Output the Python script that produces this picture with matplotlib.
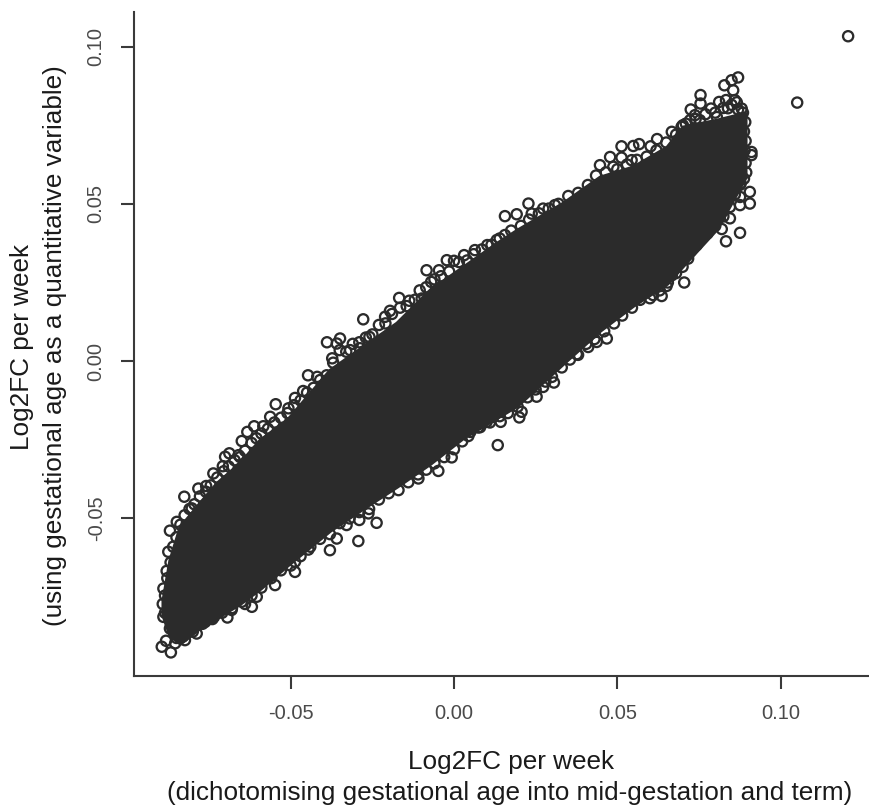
#!/usr/bin/env python3
# -*- coding: utf-8 -*-

"""
Log2FC per week: two ways of modelling gestational age
"""

import matplotlib
matplotlib.use("Agg")
import matplotlib.pyplot as plt

plt.rcParams["font.family"] = ["Liberation Sans", "DejaVu Sans"]

# ========================================
#  data
# ========================================

# the dense mass of points, where single circles can't be told apart
mass_x = [-0.0891, -0.0870, -0.0839, -0.0778, -0.0726, -0.0655, -0.0594, -0.0511,
          -0.0380, -0.0279, -0.0175, -0.0073, 0.0028, 0.0132, 0.0193, 0.0334,
          0.0447, 0.0548, 0.0652, 0.0701, 0.0805, 0.0891]
mass_upper = [-0.0760, -0.0633, -0.0528, -0.0451, -0.0388, -0.0324, -0.0251, -0.0188,
              -0.0029, 0.0045, 0.0121, 0.0226, 0.0299, 0.0375, 0.0416, 0.0502,
              0.0585, 0.0617, 0.0680, 0.0744, 0.0766, 0.0788]
mass_lower = [-0.0807, -0.0871, -0.0896, -0.0846, -0.0814, -0.0769, -0.0722, -0.0648,
              -0.0537, -0.0467, -0.0397, -0.0324, -0.0242, -0.0178, -0.0140, -0.0006,
              0.0099, 0.0178, 0.0248, 0.0305, 0.0423, 0.0585]

# single circles, upper edge from left to right
upper_x = [-0.0895, -0.0867, -0.0882, -0.0854, -0.0890, -0.0892, -0.0890, -0.0880,
           -0.0875, -0.0870, -0.0849, -0.0826, -0.0783, -0.0759, -0.0803, -0.0737,
           -0.0701, -0.0688, -0.0708, -0.0660, -0.0650, -0.0633, -0.0612, -0.0584,
           -0.0563, -0.0546, -0.0507,
           -0.0349, -0.0359, -0.0278, -0.0259, -0.0211, -0.0196, -0.0168, -0.0137,
           -0.0099, -0.0084, -0.0046, -0.0070, -0.0022, 0.0000, 0.0031, 0.0064,
           0.0102, 0.0131, 0.0156, 0.0156, 0.0192, 0.0228, 0.0273, 0.0309, 0.0238,
           0.0447, 0.0478, 0.0488, 0.0513, 0.0513, 0.0549, 0.0567, 0.0544, 0.0602,
           0.0622, 0.0667, 0.0697, 0.0725, 0.0738, 0.0755, 0.0755, 0.0787, 0.0812,
           0.0828, 0.0850, 0.0870, 0.0855, 0.0833, 0.0860, 0.0881]
upper_y = [-0.0908, -0.0926, -0.0889, -0.0897, -0.0813, -0.0772, -0.0723, -0.0667,
           -0.0606, -0.0539, -0.0511, -0.0431, -0.0405, -0.0397, -0.0468, -0.0357,
           -0.0304, -0.0293, -0.0334, -0.0299, -0.0254, -0.0225, -0.0207, -0.0207,
           -0.0177, -0.0137, -0.0150,
           0.0072, 0.0056, 0.0133, 0.0077, 0.0141, 0.0160, 0.0201, 0.0192,
           0.0199, 0.0289, 0.0289, 0.0252, 0.0321, 0.0319, 0.0337, 0.0353,
           0.0369, 0.0385, 0.0401, 0.0461, 0.0467, 0.0501, 0.0485, 0.0496, 0.0469,
           0.0623, 0.0649, 0.0618, 0.0683, 0.0647, 0.0684, 0.0690, 0.0639, 0.0683,
           0.0706, 0.0729, 0.0745, 0.0800, 0.0782, 0.0846, 0.0819, 0.0803, 0.0824,
           0.0877, 0.0893, 0.0902, 0.0861, 0.0830, 0.0830, 0.0803]

# single circles, lower edge from left to right
lower_x = [-0.0824, -0.0788, -0.0762, -0.0735, -0.0694, -0.0681, -0.0619, -0.0640,
           -0.0604, -0.0548, -0.0487, -0.0487, -0.0446, -0.0380, -0.0359, -0.0329,
           -0.0293, -0.0290, -0.0237, -0.0262,
           -0.0109, -0.0109, -0.0048, -0.0007, 0.0044, 0.0074, 0.0100, 0.0120,
           0.0134, 0.0143, 0.0200, 0.0207, 0.0253, 0.0273, 0.0306, 0.0376, 0.0411,
           0.0437, 0.0468, 0.0524, 0.0591,
           0.0610, 0.0636, 0.0651, 0.0667, 0.0705, 0.0717, 0.0743, 0.0776, 0.0820,
           0.0833, 0.0845, 0.0876, 0.0876, 0.0876, 0.0878, 0.0906, 0.0906, 0.0911,
           0.0911]
lower_y = [-0.0887, -0.0866, -0.0829, -0.0813, -0.0815, -0.0791, -0.0781, -0.0772,
           -0.0749, -0.0712, -0.0670, -0.0638, -0.0599, -0.0601, -0.0564, -0.0521,
           -0.0572, -0.0505, -0.0514, -0.0484,
           -0.0336, -0.0373, -0.0349, -0.0306, -0.0238, -0.0211, -0.0193, -0.0177,
           -0.0267, -0.0193, -0.0179, -0.0161, -0.0113, -0.0082, -0.0068, 0.0022, 0.0045,
           0.0061, 0.0072, 0.0184, 0.0222,
           0.0210, 0.0207, 0.0239, 0.0273, 0.0250, 0.0326, 0.0369, 0.0406, 0.0420,
           0.0381, 0.0454, 0.0408, 0.0522, 0.0496, 0.0565, 0.0538, 0.0501, 0.0665,
           0.0655]

# circles half sunk into the top of the mass
fringe_top_x = [-0.0885, -0.0878, -0.0868, -0.0860, -0.0850, -0.0838, -0.0825, -0.0810,
                -0.0795, -0.0778, -0.0760, -0.0745, -0.0725, -0.0705, -0.0690, -0.0672,
                -0.0655, -0.0640, -0.0620, -0.0605, -0.0590, -0.0570, -0.0550, -0.0530,
                -0.0510, -0.0490, -0.0470, -0.0450, -0.0430, -0.0410, -0.0390, -0.0370,
                -0.0350, -0.0330, -0.0310, -0.0290, -0.0270, -0.0250, -0.0230, -0.0210,
                -0.0190, -0.0165, -0.0145, -0.0120, -0.0105, -0.0085, -0.0060, -0.0040,
                -0.0015, 0.0015, 0.0040, 0.0060, 0.0085, 0.0115, 0.0140, 0.0175,
                0.0205, 0.0230, 0.0260, 0.0290, 0.0320, 0.0350, 0.0380, 0.0410,
                0.0435, 0.0465, 0.0500, 0.0530, 0.0560, 0.0590, 0.0620, 0.0650,
                0.0680, 0.0710, 0.0740, 0.0770, 0.0800, 0.0825, 0.0850, 0.0870, 0.0885]
fringe_top_y = [-0.0745, -0.0690, -0.0640, -0.0590, -0.0560, -0.0520, -0.0490, -0.0470,
                -0.0455, -0.0430, -0.0415, -0.0395, -0.0370, -0.0350, -0.0335, -0.0315,
                -0.0305, -0.0285, -0.0260, -0.0245, -0.0230, -0.0215, -0.0195, -0.0180,
                -0.0165, -0.0140, -0.0125, -0.0100, -0.0085, -0.0060, -0.0045, -0.0005,
                0.0035, 0.0030, 0.0055, 0.0060, 0.0075, 0.0085, 0.0115, 0.0120,
                0.0150, 0.0170, 0.0175, 0.0195, 0.0225, 0.0235, 0.0260, 0.0270,
                0.0285, 0.0315, 0.0320, 0.0340, 0.0355, 0.0370, 0.0390, 0.0415,
                0.0430, 0.0450, 0.0470, 0.0485, 0.0500, 0.0525, 0.0535, 0.0560,
                0.0590, 0.0600, 0.0610, 0.0625, 0.0640, 0.0650, 0.0670, 0.0695,
                0.0720, 0.0755, 0.0770, 0.0785, 0.0790, 0.0805, 0.0815, 0.0800, 0.0790]

# circles along the right end of the mass
fringe_end_x = [0.0892, 0.0888, 0.0893, 0.0890, 0.0893, 0.0895, 0.0888]
fringe_end_y = [0.0760, 0.0730, 0.0700, 0.0670, 0.0630, 0.0600, 0.0580]

# circles half sunk into the bottom of the mass
fringe_low_x = [0.0875, 0.0860, 0.0845, 0.0825, 0.0800, 0.0775, 0.0750, 0.0725, 0.0700,
                0.0680, 0.0655, 0.0630, 0.0600, 0.0570, 0.0545, 0.0515, 0.0490, 0.0460,
                0.0430, 0.0405, 0.0380, 0.0355, 0.0330, 0.0300, 0.0280, 0.0250, 0.0225,
                0.0195, 0.0165, 0.0140, 0.0110, 0.0080, 0.0050, 0.0025, 0.0000, -0.0030,
                -0.0060, -0.0085, -0.0110, -0.0140, -0.0170, -0.0200, -0.0230, -0.0260,
                -0.0290, -0.0320, -0.0350, -0.0380, -0.0410, -0.0440, -0.0470, -0.0500,
                -0.0530, -0.0560, -0.0590, -0.0620, -0.0650, -0.0680, -0.0710, -0.0740,
                -0.0770, -0.0800, -0.0830, -0.0850, -0.0870, -0.0885]
fringe_low_y = [0.0560, 0.0530, 0.0490, 0.0460, 0.0430, 0.0420, 0.0390, 0.0350, 0.0300,
                0.0280, 0.0250, 0.0225, 0.0200, 0.0195, 0.0170, 0.0145, 0.0120, 0.0095,
                0.0070, 0.0055, 0.0020, 0.0005, -0.0020, -0.0050, -0.0065, -0.0090, -0.0115,
                -0.0145, -0.0165, -0.0175, -0.0195, -0.0210, -0.0225, -0.0255, -0.0280, -0.0305,
                -0.0325, -0.0345, -0.0360, -0.0385, -0.0410, -0.0420, -0.0440, -0.0470,
                -0.0480, -0.0500, -0.0515, -0.0550, -0.0565, -0.0590, -0.0620, -0.0650,
                -0.0665, -0.0690, -0.0720, -0.0745, -0.0765, -0.0785, -0.0800, -0.0820,
                -0.0835, -0.0860, -0.0875, -0.0880, -0.0850, -0.0800]

# a few more circles seen in the close-ups
extra_x = [-0.0389, -0.0447, -0.0419, -0.0487, -0.0462, -0.0373, -0.0318, -0.0288,
           0.0805, 0.0839, 0.0866, 0.0753, 0.0723, 0.0701, 0.0784, 0.0753]
extra_y = [0.0060, -0.0045, -0.0050, -0.0117, -0.0095, 0.0009, 0.0035, 0.0041,
           0.0776, 0.0804, 0.0823, 0.0766, 0.0766, 0.0750, 0.0448, 0.0407]

# the two far points at the top right
outlier_x = [0.1051, 0.1207]
outlier_y = [0.0822, 0.1033]

x_ticks = [-0.05, 0.00, 0.05, 0.10]
y_ticks = [-0.05, 0.00, 0.05, 0.10]

x_label_1 = "Log2FC per week"
x_label_2 = "(dichotomising gestational age into mid-gestation and term)"
y_label_1 = "Log2FC per week"
y_label_2 = "(using gestational age as a quantitative variable)"

INK = "#2b2b2b"
TICK_TEXT = "#4a4a4a"
LABEL = "#1a1a1a"

# ========================================
#  figure
# ========================================
W, H = 870, 806
fig = plt.figure(figsize=(W / 100, H / 100), dpi=100)
ax = fig.add_axes([134 / W, 1 - 676 / H, 736 / W, 664 / H])

ax.set_xlim(-0.0980, 0.1274)
ax.set_ylim(-0.1001, 0.1110)

ax.fill_between(mass_x, mass_lower, mass_upper, color=INK, lw=3, zorder=2)

circle = dict(s=54, facecolors="none", edgecolors=INK, linewidths=1.65, zorder=3)
ax.scatter(upper_x, upper_y, **circle)
ax.scatter(lower_x, lower_y, **circle)
ax.scatter(fringe_top_x, fringe_top_y, **circle)
ax.scatter(fringe_end_x, fringe_end_y, **circle)
ax.scatter(fringe_low_x, fringe_low_y, **circle)
ax.scatter(extra_x, extra_y, **circle)
ax.scatter(outlier_x, outlier_y, **circle)

# ========================================
#  axes in the R style
# ========================================
for side in ("top", "right"):
    ax.spines[side].set_visible(False)
for side in ("left", "bottom"):
    ax.spines[side].set_linewidth(1.5)
    ax.spines[side].set_color("#3a3a3a")

ax.set_xticks(x_ticks)
ax.set_xticklabels([f"{v:.2f}" for v in x_ticks])
ax.set_yticks(y_ticks)
ax.set_yticklabels([f"{v:.2f}" for v in y_ticks], rotation=90, va="center")
ax.tick_params(axis="x", length=9.4, width=1.5, color="#3a3a3a", pad=11,
               labelsize=14.5, labelcolor=TICK_TEXT)
ax.tick_params(axis="y", length=9.4, width=1.5, color="#3a3a3a", pad=11,
               labelsize=14.5, labelcolor=TICK_TEXT)

fig.text(511 / W, 1 - 762 / H, x_label_1, ha="center", va="center", fontsize=18.8, color=LABEL)
fig.text(510 / W, 1 - 793 / H, x_label_2, ha="center", va="center", fontsize=18.8, color=LABEL)
fig.text(22 / W, 1 - 347 / H, y_label_1, rotation=90, ha="center", va="center", fontsize=18.8, color=LABEL)
fig.text(55 / W, 1 - 346 / H, y_label_2, rotation=90, ha="center", va="center", fontsize=18.8, color=LABEL)

fig.savefig("out.png", dpi=100)
